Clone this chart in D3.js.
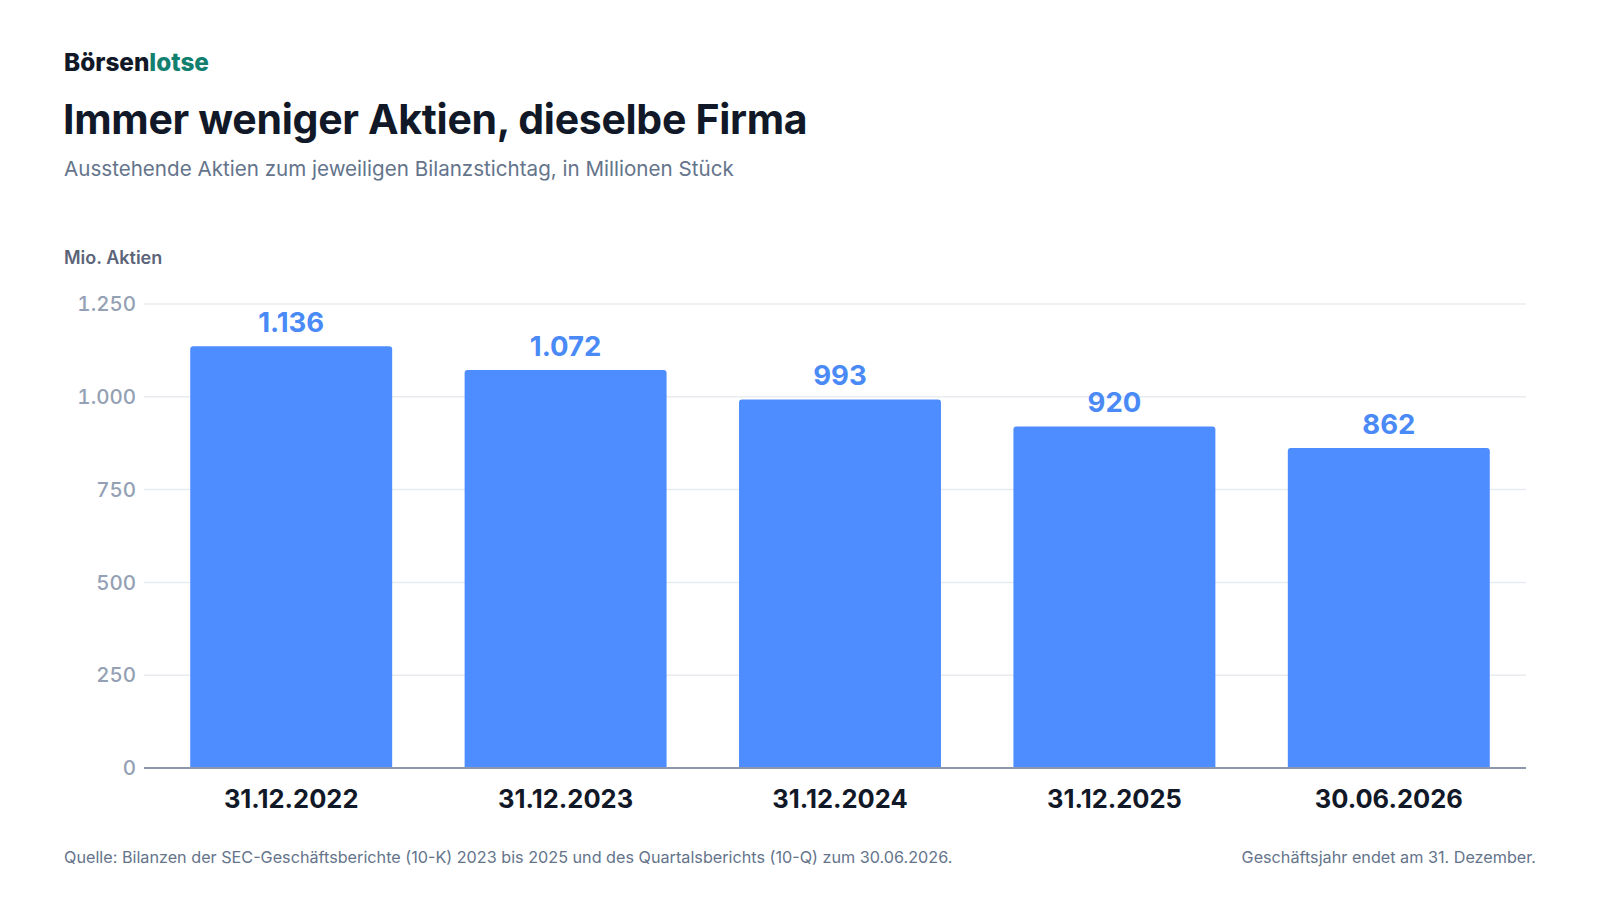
<!DOCTYPE html>
<html lang="de">
<head>
<meta charset="utf-8">
<script src="https://cdn.jsdelivr.net/npm/d3@7"></script>
<style>
    html, body { margin: 0; padding: 0; background: #fff; }
    svg { display: block; font-family: Inter, 'Noto Sans', sans-serif; }
</style>
</head>
<body>
<div id="chart"></div>
<script>
// Data
const dates = ['31.12.2022', '31.12.2023', '31.12.2024', '31.12.2025', '30.06.2026']
const shares = [1136, 1072, 993, 920, 862]
const yTicks = [0, 250, 500, 750, 1000, 1250]

const width = 1600
const height = 900
const margin = { top: 304, right: 74, bottom: 132, left: 154 }

const fmt = d3.formatLocale({ decimal: ',', thousands: '.', grouping: [3], currency: ['', ' €'] }).format(',d')

const svg = d3.select('#chart')
    .append('svg')
    .attr('width', width)
    .attr('height', height)

// Header
const logo = svg.append('text')
    .attr('x', 64)
    .attr('y', 71)
    .attr('font-size', 24.3)
    .attr('font-weight', 800)
logo.append('tspan').attr('fill', '#111827').text('Börsen')
logo.append('tspan').attr('fill', '#12806f').text('lotse')

svg.append('text')
    .attr('x', 63)
    .attr('y', 134)
    .attr('font-size', 41)
    .attr('font-weight', 700)
    .attr('letter-spacing', -0.3)
    .attr('fill', '#111827')
    .text('Immer weniger Aktien, dieselbe Firma')

svg.append('text')
    .attr('x', 64)
    .attr('y', 176)
    .attr('font-size', 20.6)
    .attr('fill', '#64748b')
    .text('Ausstehende Aktien zum jeweiligen Bilanzstichtag, in Millionen Stück')

svg.append('text')
    .attr('x', 64)
    .attr('y', 264)
    .attr('font-size', 18)
    .attr('font-weight', 600)
    .attr('fill', '#5b6478')
    .text('Mio. Aktien')

// Scales
const x = d3.scaleBand()
    .domain(dates)
    .range([margin.left, width - margin.right])
    .paddingInner(0.264)
    .paddingOuter(0.132)

const y = d3.scaleLinear()
    .domain([0, 1250])
    .range([height - margin.bottom, margin.top])

// Grid
const grid = svg.append('g')
grid.selectAll('line')
    .data(yTicks.filter(d => d > 0))
    .enter()
    .append('line')
    .attr('x1', 144)
    .attr('x2', width - margin.right)
    .attr('y1', d => y(d))
    .attr('y2', d => y(d))
    .attr('stroke', '#e8ebef')
    .attr('stroke-width', 1.5)

// Y tick labels
svg.append('g')
    .selectAll('text')
    .data(yTicks)
    .enter()
    .append('text')
    .attr('x', 136)
    .attr('y', d => y(d))
    .attr('dy', '0.35em')
    .attr('text-anchor', 'end')
    .attr('font-size', 20.5)
    .attr('font-weight', 500)
    .style('font-variant-numeric', 'tabular-nums')
    .attr('fill', '#94a0b4')
    .text(d => fmt(d))

// Bars with rounded top corners
const r = 3
const barPath = (d, i) => {
    const x0 = x(dates[i])
    const x1 = x0 + x.bandwidth()
    const y0 = y(0)
    const y1 = y(d)
    return `M${x0},${y0}V${y1 + r}Q${x0},${y1} ${x0 + r},${y1}H${x1 - r}Q${x1},${y1} ${x1},${y1 + r}V${y0}Z`
}

svg.append('g')
    .selectAll('path')
    .data(shares)
    .enter()
    .append('path')
    .attr('d', barPath)
    .attr('fill', '#4d8dff')

// Value labels
svg.append('g')
    .selectAll('text')
    .data(shares)
    .enter()
    .append('text')
    .attr('x', (d, i) => x(dates[i]) + x.bandwidth() / 2)
    .attr('y', d => y(d) - 14)
    .attr('text-anchor', 'middle')
    .attr('font-size', 27.5)
    .attr('font-weight', 700)
    .attr('fill', '#4a8af7')
    .text(d => fmt(d))

// Baseline
svg.append('line')
    .attr('x1', 144)
    .attr('x2', width - margin.right)
    .attr('y1', y(0))
    .attr('y2', y(0))
    .attr('stroke', '#8d97ab')
    .attr('stroke-width', 2)

// X labels
svg.append('g')
    .selectAll('text')
    .data(dates)
    .enter()
    .append('text')
    .attr('x', d => x(d) + x.bandwidth() / 2)
    .attr('y', 808)
    .attr('text-anchor', 'middle')
    .attr('font-size', 25.5)
    .attr('font-weight', 700)
    .attr('fill', '#111827')
    .text(d => d)

// Footer
svg.append('text')
    .attr('x', 64)
    .attr('y', 863)
    .attr('font-size', 16.2)
    .attr('fill', '#64748b')
    .text('Quelle: Bilanzen der SEC-Geschäftsberichte (10-K) 2023 bis 2025 und des Quartalsberichts (10-Q) zum 30.06.2026.')

svg.append('text')
    .attr('x', 1536)
    .attr('y', 863)
    .attr('text-anchor', 'end')
    .attr('font-size', 16.2)
    .attr('fill', '#64748b')
    .text('Geschäftsjahr endet am 31. Dezember.')
</script>
</body>
</html>
